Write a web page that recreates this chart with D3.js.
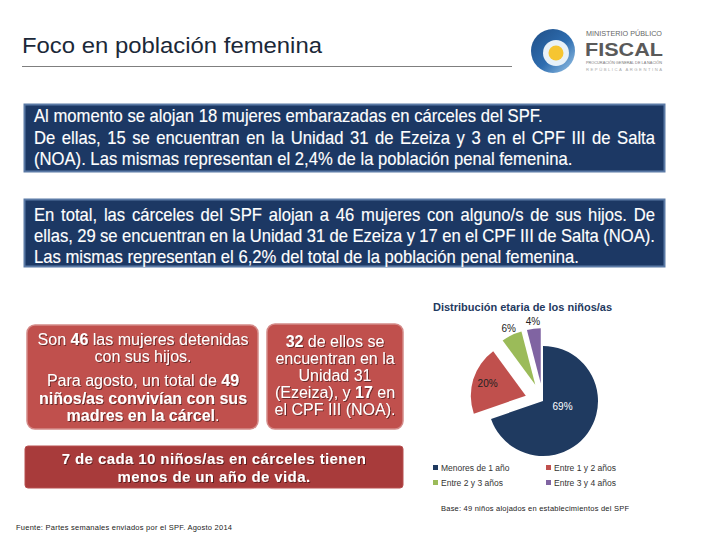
<!DOCTYPE html>
<html><head><meta charset="utf-8">
<script src="https://cdn.jsdelivr.net/npm/d3@7"></script>
<style>
html,body{margin:0;padding:0;background:#fff;}
svg text{font-family:"Liberation Sans",Arial,sans-serif;}
</style></head>
<body><svg id="c" width="720" height="540"></svg>
<script>
// ---- data ----
const ageGroups = ["Menores de 1 año","Entre 1 y 2 años","Entre 2 y 3 años","Entre 3 y 4 años"];
const agePercents = [69, 20, 6, 4];
const ageColors = ["#1F3A60","#C0504D","#9BBB59","#8064A2"];
const pageTitle = "Foco en población femenina";
const chartTitle = "Distribución etaria de los niños/as";
const baseNote = "Base: 49 niños alojados en establecimientos del SPF";
const sourceNote = "Fuente: Partes semanales enviados por el SPF. Agosto 2014";
const box1Lines = [
  {t:"Al momento se alojan 18 mujeres embarazadas en cárceles del SPF.", j:false},
  {t:"De ellas, 15 se encuentran en la Unidad 31 de Ezeiza y 3 en el CPF III de Salta", j:true},
  {t:"(NOA). Las mismas representan el 2,4% de la población penal femenina.", j:false}
];
const box2Lines = [
  {t:"En total, las cárceles del SPF alojan a 46 mujeres con alguno/s de sus hijos. De", j:true},
  {t:"ellas, 29 se encuentran en la Unidad 31 de Ezeiza y 17 en el CPF III de Salta (NOA).", j:true},
  {t:"Las mismas representan el 6,2% del total de la población penal femenina.", j:false}
];
const redA = [
  {y:345, parts:[["Son ",0],["46",1],[" las mujeres detenidas",0]]},
  {y:362, parts:[["con sus hijos.",0]]},
  {y:386, parts:[["Para agosto, un total de ",0],["49",1]]},
  {y:404, parts:[["niños/as convivían con sus",1]]},
  {y:421, parts:[["madres en la cárcel",1],[".",0]]}
];
const redB = [
  {y:347, parts:[["32",1],[" de ellos se",0]]},
  {y:364, parts:[["encuentran en la",0]]},
  {y:381, parts:[["Unidad 31",0]]},
  {y:398, parts:[["(Ezeiza), y ",0],["17",1],[" en",0]]},
  {y:415, parts:[["el CPF III (NOA).",0]]}
];
const redC = ["7 de cada 10 niños/as en cárceles tienen","menos de un año de vida."];

const svg = d3.select("#c");
const defs = svg.append("defs");
const sh = defs.append("filter").attr("id","ts").attr("x","-10%").attr("y","-10%").attr("width","120%").attr("height","130%");
sh.append("feDropShadow").attr("dx",1).attr("dy",1).attr("stdDeviation",0.6).attr("flood-color","#000").attr("flood-opacity",0.45);

// ---- header ----
svg.append("text").attr("x",22).attr("y",53).attr("font-size",21.5).attr("fill","#1b2838")
  .attr("textLength",300).attr("lengthAdjust","spacingAndGlyphs").text(pageTitle);
svg.append("line").attr("x1",22).attr("x2",512).attr("y1",66.5).attr("y2",66.5).attr("stroke","#7f7f7f").attr("stroke-width",1);

// logo
const lg = svg.append("g");
const g1 = defs.append("linearGradient").attr("id","ring").attr("x1","0").attr("y1","0").attr("x2","1").attr("y2","1");
g1.append("stop").attr("offset","0").attr("stop-color","#1f4e86");
g1.append("stop").attr("offset","0.55").attr("stop-color","#2e6db0");
g1.append("stop").attr("offset","1").attr("stop-color","#9ec9ea");
lg.append("circle").attr("cx",553).attr("cy",51).attr("r",22).attr("fill","url(#ring)");
lg.append("circle").attr("cx",556).attr("cy",53).attr("r",13).attr("fill","#e8f1f8");
lg.append("circle").attr("cx",556).attr("cy",53).attr("r",7.5).attr("fill","#f6c531");
lg.append("text").attr("x",586).attr("y",36).attr("font-size",7.5).attr("fill","#666").attr("textLength",76).attr("lengthAdjust","spacingAndGlyphs").text("MINISTERIO PÚBLICO");
lg.append("text").attr("x",585).attr("y",56).attr("font-size",19).attr("font-weight","bold").attr("fill","#5a5a5a").attr("textLength",78).attr("lengthAdjust","spacingAndGlyphs").text("FISCAL");
lg.append("text").attr("x",586).attr("y",64).attr("font-size",4.2).attr("fill","#777").attr("textLength",76).attr("lengthAdjust","spacingAndGlyphs").text("PROCURACIÓN GENERAL DE LA NACIÓN");
lg.append("text").attr("x",586).attr("y",71).attr("font-size",4.2).attr("fill","#aaa").attr("textLength",76).attr("lengthAdjust","spacing").text("REPÚBLICA ARGENTINA");

// ---- blue boxes ----
const justifyW = 621, SX = 0.925;
function blueBox(y0, lines, baselines){
  svg.append("rect").attr("x",24.5).attr("y",y0+0.5).attr("width",640).attr("height",67)
    .attr("fill","#1c3864").attr("stroke","#5b7aa6").attr("stroke-width",2);
  const g = svg.append("g").attr("transform",`scale(${SX},1)`);
  lines.forEach((l,i)=>{
    const t = g.append("text").attr("x",34/SX).attr("y",baselines[i]).attr("font-size",18).attr("fill","#fff")
      .attr("stroke","#fff").attr("stroke-width",0.15).text(l.t);
    if(l.j){
      const w = t.node().getComputedTextLength();
      const n = (l.t.match(/ /g)||[]).length;
      t.attr("word-spacing", (justifyW/SX - w)/n);
    }
  });
}
blueBox(104, box1Lines, [122,144,165]);
blueBox(199, box2Lines, [221,242,263]);

// ---- red boxes ----
function richText(lines, cx, size){
  lines.forEach(l=>{
    const t = svg.append("text").attr("x",cx).attr("y",l.y).attr("text-anchor","middle")
      .attr("font-size",size).attr("fill","#fff").attr("filter","url(#ts)");
    l.parts.forEach(p=>t.append("tspan").attr("font-weight",p[1]?"bold":"normal").text(p[0]));
  });
}
svg.append("rect").attr("x",27).attr("y",325).attr("width",231).attr("height",104).attr("rx",8)
  .attr("fill","#c0504d").attr("stroke","#d48a88").attr("stroke-width",1.5);
svg.append("rect").attr("x",267).attr("y",324).attr("width",136).attr("height",105).attr("rx",8)
  .attr("fill","#c0504d").attr("stroke","#d48a88").attr("stroke-width",1.5);
richText(redA, 143, 16);
richText(redB, 335, 16);
svg.append("rect").attr("x",25).attr("y",446).attr("width",378).attr("height",42).attr("rx",3)
  .attr("fill","#a83b3b").attr("stroke","#b85050");
redC.forEach((s,i)=>svg.append("text").attr("x",214).attr("y",464+i*18).attr("text-anchor","middle")
  .attr("font-size",15).attr("font-weight","bold").attr("fill","#fff").attr("letter-spacing",0.4).attr("filter","url(#ts)").text(s));

// ---- pie chart ----
svg.append("text").attr("x",433).attr("y",311).attr("font-size",11).attr("font-weight","bold")
  .attr("fill","#1F3A60").text(chartTitle);
const cx = 543, cy = 401, R = 55, explode = 18;
const pie = d3.pie().sort(null).value(d=>d)(agePercents);
const arc = d3.arc().innerRadius(0).outerRadius(R);
const pg = svg.append("g").attr("transform",`translate(${cx},${cy})`);
pie.forEach((d,i)=>{
  const mid = (d.startAngle+d.endAngle)/2;
  const off = i===0?0:explode;
  const ox = Math.sin(mid)*off, oy = -Math.cos(mid)*off;
  const g = pg.append("g").attr("transform",`translate(${ox},${oy})`);
  g.append("path").attr("d",arc(d)).attr("fill",ageColors[i]);
  const lr = i===0 ? 24 : (i===1 ? 40 : R+7);
  const lx = Math.sin(mid)*lr, ly = -Math.cos(mid)*lr + (i===0?-8:0);
  g.append("text").attr("x",lx).attr("y",ly).attr("dy","0.35em").attr("text-anchor","middle")
    .attr("font-size",10).attr("fill",i===0?"#fff":"#222").text(d3.format(".0f")(agePercents[i])+"%");
});

// legend
const legPos = [[436,471],[549,471],[436,486],[549,486]];
ageGroups.forEach((n,i)=>{
  const [x,y]=legPos[i];
  svg.append("rect").attr("x",x-3).attr("y",y-6).attr("width",5).attr("height",5).attr("fill",ageColors[i]);
  svg.append("text").attr("x",x+5).attr("y",y).attr("font-size",8.5).attr("fill","#333").text(n);
});
svg.append("text").attr("x",441).attr("y",511).attr("font-size",7.5).attr("fill","#222")
  .attr("textLength",188).attr("lengthAdjust","spacing").text(baseNote);
svg.append("text").attr("x",16).attr("y",530).attr("font-size",7.5).attr("fill","#222")
  .attr("textLength",216).attr("lengthAdjust","spacing").text(sourceNote);
</script></body></html>
